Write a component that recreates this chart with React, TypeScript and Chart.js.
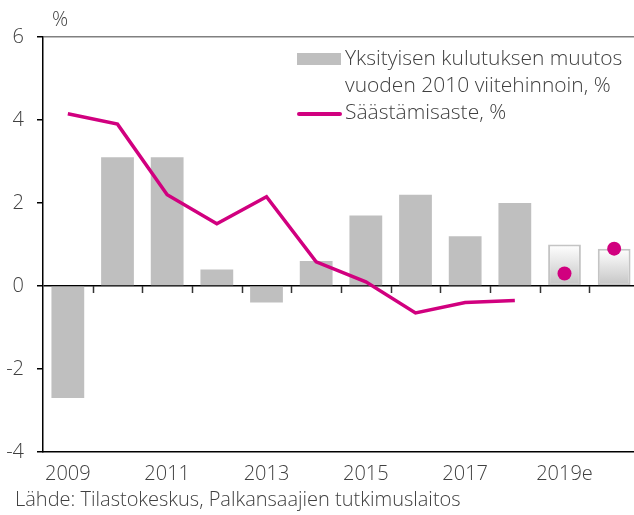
import React, { useEffect, useRef } from "react";
import { Chart, registerables } from "chart.js";

Chart.register(...registerables);

const categories = ["2009", "2010", "2011", "2012", "2013", "2014", "2015", "2016", "2017", "2018", "2019e", "2020e"];
const consumptionChange = [-2.7, 3.1, 3.1, 0.4, -0.4, 0.6, 1.7, 2.2, 1.2, 2.0, 1.0, 0.9];
const forecastFlags = [false, false, false, false, false, false, false, false, false, false, true, true];
const savingsRate = [4.15, 3.9, 2.2, 1.5, 2.15, 0.58, 0.1, -0.65, -0.4, -0.35, null, null];
const savingsForecast = [null, null, null, null, null, null, null, null, null, null, 0.3, 0.9];
const yTicks = [-4, -2, 0, 2, 4, 6];

const legendBarLabel = ["Yksityisen kulutuksen muutos", "vuoden 2010 viitehinnoin, %"];
const legendLineLabel = "Säästämisaste, %";
const sourceText = "Lähde: Tilastokeskus, Palkansaajien tutkimuslaitos";
const yUnit = "%";

const FONT_FAMILY = '"Open Sans", "DejaVu Sans", sans-serif';
const FONT_SIZE = 20;
const LEGEND_FONT_SIZE = 21;
const TEXT_COLOR = "#404040";
const BAR_COLOR = "#bfbfbf";
const LINE_COLOR = "#d1007f";

const extrasPlugin = {
  id: "extras",
  afterDraw(chart: any) {
    const ctx = chart.ctx;
    const x = chart.scales.x;
    const y = chart.scales.y;
    ctx.save();
    const y0 = y.getPixelForValue(0);
    const n = categories.length;
    const w = (x.right - x.left) / n;
    ctx.strokeStyle = "#333";
    ctx.lineWidth = 1.5;
    for (let i = 1; i <= n; i++) {
      const px = Math.round(x.left + w * i) + 0.5;
      ctx.beginPath();
      ctx.moveTo(px, y0);
      ctx.lineTo(px, y0 + 7);
      ctx.stroke();
    }
    ctx.fillStyle = TEXT_COLOR;
    ctx.font = `300 ${FONT_SIZE}px ${FONT_FAMILY}`;
    ctx.textAlign = "center";
    ctx.textBaseline = "middle";
    ctx.fillText(yUnit, 60, 20);
    ctx.textAlign = "left";
    ctx.fillText(sourceText, 15, 500);
    ctx.fillStyle = BAR_COLOR;
    ctx.fillRect(297, 53, 44, 12);
    ctx.strokeStyle = LINE_COLOR;
    ctx.lineWidth = 4;
    ctx.lineCap = "round";
    ctx.beginPath();
    ctx.moveTo(299, 114);
    ctx.lineTo(340, 114);
    ctx.stroke();
    ctx.fillStyle = TEXT_COLOR;
    ctx.font = `300 ${LEGEND_FONT_SIZE}px ${FONT_FAMILY}`;
    ctx.fillText(legendBarLabel[0], 345, 59);
    ctx.fillText(legendBarLabel[1], 345, 86);
    ctx.fillText(legendLineLabel, 345, 113);
    ctx.restore();
  },
};

export default function App() {
  const ref = useRef<HTMLCanvasElement | null>(null);
  useEffect(() => {
    if (!ref.current) return;
    const chart = new Chart(ref.current, {
      type: "bar",
      data: {
        labels: categories,
        datasets: [
          {
            type: "line",
            label: legendLineLabel,
            data: savingsRate,
            borderColor: LINE_COLOR,
            backgroundColor: LINE_COLOR,
            borderWidth: 3.5,
            pointRadius: 0,
            tension: 0,
            order: 0,
          } as any,
          {
            type: "line",
            label: legendLineLabel + " e",
            data: savingsForecast,
            showLine: false,
            borderColor: LINE_COLOR,
            backgroundColor: LINE_COLOR,
            pointRadius: 7,
            pointBorderWidth: 0,
            order: 0,
          } as any,
          {
            type: "bar",
            label: legendBarLabel.join(" "),
            data: consumptionChange,
            categoryPercentage: 1,
            barPercentage: 0.66,
            order: 1,
            borderWidth: (c: any) => (forecastFlags[c.dataIndex] ? 2 : 0),
            borderColor: "#c4c4c4",
            borderSkipped: false,
            backgroundColor: (c: any) => {
              const i = c.dataIndex;
              if (!forecastFlags[i]) return BAR_COLOR;
              const ch = c.chart;
              const ys = ch.scales && ch.scales.y;
              if (!ys || !ch.chartArea) return BAR_COLOR;
              const top = ys.getPixelForValue(consumptionChange[i]);
              const bottom = ys.getPixelForValue(0);
              const g = ch.ctx.createLinearGradient(0, top, 0, bottom);
              g.addColorStop(0, "#ffffff");
              g.addColorStop(1, "#c4c4c4");
              return g;
            },
          } as any,
        ],
      },
      options: {
        responsive: false,
        animation: false,
        layout: { padding: { top: 37, left: 0, right: 0, bottom: 0 } },
        plugins: { legend: { display: false }, tooltip: { enabled: false } },
        scales: {
          x: {
            offset: true,
            grid: { display: false, drawTicks: false },
            border: { display: true, color: "#000", width: 1.5 },
            ticks: {
              autoSkip: false,
              maxRotation: 0,
              padding: 10,
              color: TEXT_COLOR,
              font: { family: FONT_FAMILY, size: FONT_SIZE, weight: "300" as any },
              callback: (_v: any, i: number) => (i % 2 === 0 ? categories[i] : ""),
            },
            afterFit: (s: any) => {
              s.height = 63;
            },
          },
          y: {
            min: -4,
            max: 6,
            afterBuildTicks: (s: any) => {
              s.ticks = yTicks.map((v) => ({ value: v }));
            },
            grid: {
              color: (c: any) => (c.tick && c.tick.value === 6 ? "#808080" : c.tick && c.tick.value === 0 ? "#000" : "rgba(0,0,0,0)"),
              lineWidth: 1.5,
              tickColor: "#000",
              tickLength: 6,
              drawTicks: true,
            },
            border: { display: true, color: "#000", width: 1.5 },
            ticks: {
              padding: 13,
              color: TEXT_COLOR,
              font: { family: FONT_FAMILY, size: FONT_SIZE, weight: "300" as any },
              callback: (v: any) => String(v),
            },
            afterFit: (s: any) => {
              s.width = 43;
            },
          },
        },
      },
      plugins: [extrasPlugin],
    });
    return () => chart.destroy();
  }, []);
  return (
    <div style={{ position: "fixed", left: 0, top: 0, width: 634, height: 515, overflow: "hidden", background: "#fff" }}>
      <div style={{ width: 646, height: 515 }}>
        <canvas ref={ref} width={646} height={515} style={{ display: "block", width: 646, height: 515 }} />
      </div>
    </div>
  );
}
